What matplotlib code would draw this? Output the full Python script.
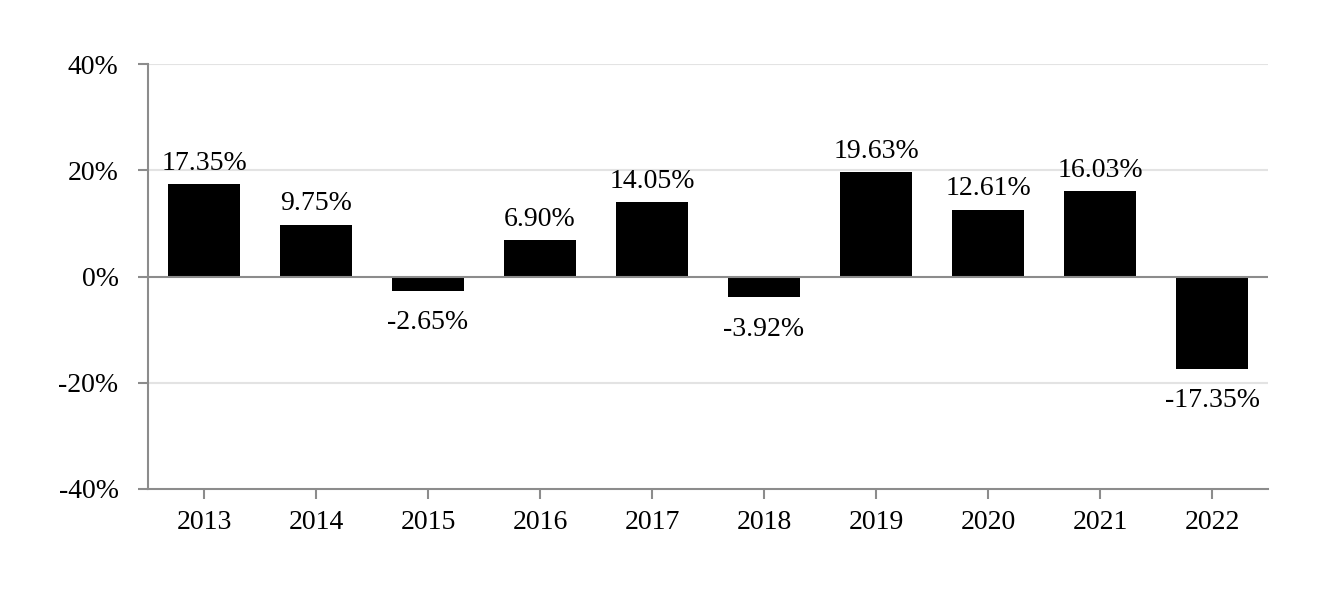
import matplotlib.pyplot as plt
import numpy as np

# Annual returns
years = ["2013", "2014", "2015", "2016", "2017", "2018", "2019", "2020", "2021", "2022"]
returns = [17.35, 9.75, -2.65, 6.90, 14.05, -3.92, 19.63, 12.61, 16.03, -17.35]
y_ticks = [-40, -20, 0, 20, 40]

plt.rcParams["font.family"] = ["Liberation Serif", "DejaVu Serif"]

axis_grey = "#8c8c8c"
grid_grey = "#e3e3e3"
fs = 20


def main():
    fig = plt.figure(figsize=(13.32, 6.0), dpi=100)
    ax = fig.add_axes([148 / 1332, 1 - 489 / 600, 1120 / 1332, (489 - 64) / 600])

    x = np.arange(len(years))
    ax.bar(x, returns, width=0.64, color="black", zorder=3)

    # Value labels above positive bars, below negative ones
    for xi, val in zip(x, returns):
        if val >= 0:
            ax.annotate(f"{val:.2f}%", (xi, val), xytext=(0, 6), textcoords="offset points",
                        ha="center", va="bottom", fontsize=fs)
        else:
            ax.annotate(f"{val:.2f}%", (xi, val), xytext=(0, -14), textcoords="offset points",
                        ha="center", va="top", fontsize=fs)

    ax.set_xlim(-0.5, len(years) - 0.5)
    ax.set_ylim(-40, 40)
    ax.set_yticks(y_ticks)
    ax.set_yticklabels([f"{t}%" for t in y_ticks])
    ax.set_xticks(x)
    ax.set_xticklabels(years)

    for t in [-20, 20, 40]:
        ax.axhline(t, color=grid_grey, lw=1.5, zorder=1)
    ax.axhline(0, color=axis_grey, lw=1.5, zorder=4)

    for side in ["top", "right"]:
        ax.spines[side].set_visible(False)
    for side in ["left", "bottom"]:
        ax.spines[side].set_color(axis_grey)
        ax.spines[side].set_linewidth(1.5)

    ax.tick_params(axis="y", length=7.2, width=1.5, color=axis_grey, labelsize=fs, pad=14)
    ax.tick_params(axis="x", length=7.2, width=1.5, color=axis_grey, labelsize=fs, pad=8)

    fig.savefig("out.png", dpi=100)


if __name__ == "__main__":
    main()
